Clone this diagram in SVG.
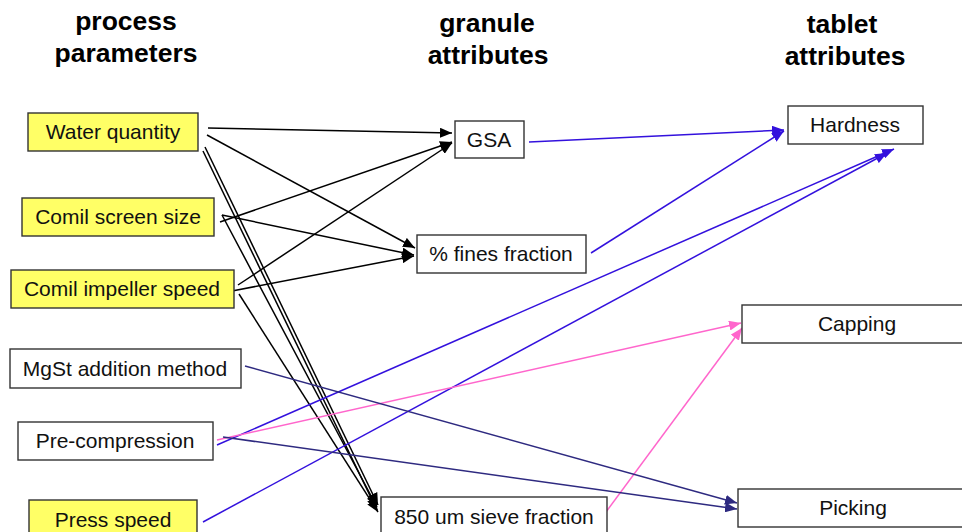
<svg xmlns="http://www.w3.org/2000/svg" width="962" height="532" viewBox="0 0 962 532">
<style>
  .hdr{font-family:"Liberation Sans",Arial,sans-serif;font-weight:bold;font-size:26.5px;fill:#000;text-anchor:middle}
  .lbl{font-family:"Liberation Sans",Arial,sans-serif;font-size:21px;fill:#111;text-anchor:middle}
  .box{fill:#fff;stroke:#333;stroke-width:1.4}
  .ybox{fill:#ffff66;stroke:#333;stroke-width:1.4}
  .k{stroke:#000;stroke-width:1.5;fill:none;marker-end:url(#ak)}
  .b{stroke:#3311dd;stroke-width:1.5;fill:none;marker-end:url(#ab)}
  .p{stroke:#ff66cc;stroke-width:1.5;fill:none;marker-end:url(#ap)}
  .n{stroke:#2e2a80;stroke-width:1.5;fill:none;marker-end:url(#an)}
</style>
<defs>
  <marker id="ak" markerUnits="userSpaceOnUse" markerWidth="12" markerHeight="10" viewBox="0 0 12 10" refX="12" refY="5" orient="auto"><path d="M0,0 L12,5 L0,10 z" fill="#000"/></marker>
  <marker id="ab" markerUnits="userSpaceOnUse" markerWidth="12" markerHeight="10" viewBox="0 0 12 10" refX="12" refY="5" orient="auto"><path d="M0,0 L12,5 L0,10 z" fill="#3311dd"/></marker>
  <marker id="ap" markerUnits="userSpaceOnUse" markerWidth="12" markerHeight="10" viewBox="0 0 12 10" refX="12" refY="5" orient="auto"><path d="M0,0 L12,5 L0,10 z" fill="#ff66cc"/></marker>
  <marker id="an" markerUnits="userSpaceOnUse" markerWidth="12" markerHeight="10" viewBox="0 0 12 10" refX="12" refY="5" orient="auto"><path d="M0,0 L12,5 L0,10 z" fill="#2e2a80"/></marker>
</defs>

<g id="headers">
  <text class="hdr" x="126" y="30">process</text>
  <text class="hdr" x="126" y="62">parameters</text>
  <text class="hdr" x="487" y="32">granule</text>
  <text class="hdr" x="488" y="64">attributes</text>
  <text class="hdr" x="842" y="33">tablet</text>
  <text class="hdr" x="845" y="65">attributes</text>
</g>

<g id="connectors">
  <!-- black: to GSA -->
  <line class="k" x1="208" y1="128" x2="452" y2="133"/>
  <line class="k" x1="220" y1="222" x2="452" y2="142"/>
  <line class="k" x1="238" y1="285" x2="452" y2="143"/>
  <!-- black: to % fines -->
  <line class="k" x1="207" y1="135" x2="415" y2="248"/>
  <line class="k" x1="222" y1="215" x2="414" y2="255"/>
  <line class="k" x1="232" y1="291" x2="414" y2="256"/>
  <!-- black: to 850 um sieve -->
  <line class="k" x1="205" y1="147" x2="378" y2="505"/>
  <line class="k" x1="203" y1="151" x2="377" y2="510"/>
  <line class="k" x1="222" y1="215" x2="377" y2="507"/>
  <line class="k" x1="239" y1="294" x2="378" y2="512"/>
  <!-- blue: to Hardness -->
  <line class="b" x1="529" y1="142" x2="784" y2="130"/>
  <line class="b" x1="591" y1="253" x2="784" y2="131"/>
  <line class="b" x1="217" y1="445" x2="894" y2="149"/>
  <line class="b" x1="203" y1="522" x2="887" y2="153"/>
  <!-- pink: to Capping -->
  <line class="p" x1="217" y1="440" x2="741" y2="323"/>
  <line class="p" x1="606" y1="512" x2="742" y2="328"/>
  <!-- navy: to Picking -->
  <line class="n" x1="245" y1="366" x2="737" y2="503"/>
  <line class="n" x1="223" y1="437" x2="737" y2="509"/>
</g>

<g id="water-quantity"><rect class="ybox" x="28" y="113" width="170" height="38"/><text class="lbl" x="113" y="139">Water quantity</text></g>
<g id="comil-screen-size"><rect class="ybox" x="22" y="198" width="192" height="38"/><text class="lbl" x="118" y="224">Comil screen size</text></g>
<g id="comil-impeller-speed"><rect class="ybox" x="11" y="270" width="223" height="38"/><text class="lbl" x="122" y="296">Comil impeller speed</text></g>
<g id="mgst-addition-method"><rect class="box" x="10" y="349" width="231" height="39"/><text class="lbl" x="125" y="376">MgSt addition method</text></g>
<g id="pre-compression"><rect class="box" x="18" y="422" width="195" height="38"/><text class="lbl" x="115" y="448">Pre-compression</text></g>
<g id="press-speed"><rect class="ybox" x="29" y="500" width="168" height="38"/><text class="lbl" x="113" y="527">Press speed</text></g>

<g id="gsa"><rect class="box" x="455" y="121" width="69" height="37"/><text class="lbl" x="489" y="147">GSA</text></g>
<g id="fines-fraction"><rect class="box" x="417" y="235" width="169" height="38"/><text class="lbl" x="501" y="261">% fines fraction</text></g>
<g id="sieve-fraction"><rect class="box" x="381" y="497" width="226" height="38"/><text class="lbl" x="494" y="524">850 um sieve fraction</text></g>

<g id="hardness"><rect class="box" x="788" y="106" width="135" height="38"/><text class="lbl" x="855" y="132">Hardness</text></g>
<g id="capping"><rect class="box" x="742" y="305" width="232" height="38"/><text class="lbl" x="857" y="331">Capping</text></g>
<g id="picking"><rect class="box" x="738" y="489" width="232" height="38"/><text class="lbl" x="853" y="515">Picking</text></g>
</svg>
